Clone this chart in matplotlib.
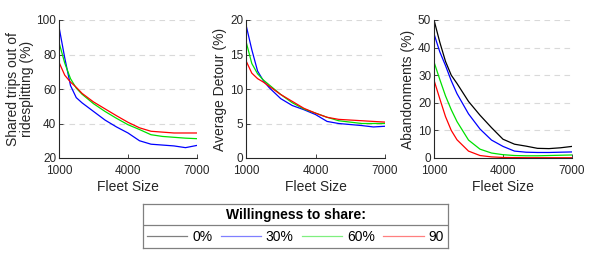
import numpy as np
import matplotlib
matplotlib.use('Agg')
import matplotlib.pyplot as plt

plt.rcParams['font.family'] = ['Liberation Sans', 'DejaVu Sans']

fleet = [1000, 1250, 1500, 1750, 2000, 2500, 3000, 3500, 4000, 4500, 5000, 5500, 6000, 6500, 7000]

# shared trips out of ridesplitting (%)
shared_30 = [96, 78, 62, 55, 52, 47, 42, 38, 34.5, 30, 28, 27.5, 27, 26, 27.3]
shared_60 = [87, 75, 66, 60.5, 57, 51.5, 47, 43, 39.3, 36.5, 33.5, 32.5, 32, 31.5, 31.2]
shared_90 = [75.5, 68, 64, 61, 57.5, 52.5, 48.5, 44.5, 40.7, 37.5, 35.5, 35, 34.5, 34.5, 34.5]

# average detour (%)
detour_30 = [19.3, 15.7, 12.6, 11.2, 10.2, 8.6, 7.6, 7.0, 6.3, 5.3, 5.0, 4.85, 4.7, 4.5, 4.6]
detour_60 = [16.9, 13.7, 12.2, 11.3, 10.6, 9.2, 8.0, 7.1, 6.5, 5.9, 5.4, 5.2, 5.0, 5.0, 5.0]
detour_90 = [14.1, 12.3, 11.5, 11.0, 10.4, 9.2, 8.2, 7.2, 6.5, 5.9, 5.6, 5.5, 5.4, 5.3, 5.2]

# abandonments (%)
aband_0 = [50, 42, 35, 30, 27, 20.5, 15.5, 11, 6.8, 5, 4.3, 3.5, 3.4, 3.7, 4.2]
aband_30 = [45, 38.5, 33.5, 28, 23.3, 16, 10.5, 6.5, 4.2, 2.5, 2.1, 2, 2, 2.1, 2.2]
aband_60 = [34.8, 28.5, 22.5, 17.5, 13.2, 6.5, 3.2, 1.8, 1.2, 0.9, 0.8, 0.8, 0.9, 1.0, 1.1]
aband_90 = [28.2, 21.5, 15, 10, 6.6, 2.5, 0.9, 0.4, 0.2, 0.15, 0.1, 0.1, 0.1, 0.1, 0.1]

labels = ['0%', '30%', '60%', '90']
colors = ['black', 'blue', '#00e000', 'red']

fig = plt.figure(figsize=(5.91, 2.56), dpi=100)
W, H = 591.0, 256.0

def make_ax(left, right, top, bottom):
    return fig.add_axes([left / W, 1 - bottom / H, (right - left) / W, (bottom - top) / H])

def style(ax, ymax, yticks, ylabel):
    ax.set_xlim(1000, 7000)
    ax.set_ylim(yticks[0], ymax)
    ax.set_xticks([1000, 4000, 7000])
    ax.set_yticks(yticks)
    for t in yticks[1:]:
        ax.axhline(t, color='#d9d9d9', lw=0.8, ls=(0, (5, 4)), zorder=0)
    for s in ['top', 'right']:
        ax.spines[s].set_visible(False)
    for s in ['left', 'bottom']:
        ax.spines[s].set_color('#262626')
        ax.spines[s].set_linewidth(0.8)
    ax.tick_params(direction='in', length=3, width=0.6, labelsize=8.5, colors='#262626')
    ax.tick_params(axis='x', pad=5)
    ax.tick_params(axis='y', pad=2)
    ax.set_xlabel('Fleet Size', fontsize=10, color='#262626', labelpad=2)
    ax.set_ylabel(ylabel, fontsize=10, color='#262626', labelpad=2, linespacing=1.0)

ax1 = make_ax(59, 197, 20, 158)
ax1.plot(fleet, shared_30, color=colors[1], lw=0.9)
ax1.plot(fleet, shared_60, color=colors[2], lw=0.9)
ax1.plot(fleet, shared_90, color=colors[3], lw=0.9)
style(ax1, 100, [20, 40, 60, 80, 100], 'Shared trips out of\nridesplitting (%)')

ax2 = make_ax(246, 385, 20, 158)
ax2.plot(fleet, detour_30, color=colors[1], lw=0.9)
ax2.plot(fleet, detour_60, color=colors[2], lw=0.9)
ax2.plot(fleet, detour_90, color=colors[3], lw=0.9)
style(ax2, 20, [0, 5, 10, 15, 20], 'Average Detour (%)')

ax3 = make_ax(434, 572, 20, 158)
lines = []
for vals, c, lab in zip([aband_0, aband_30, aband_60, aband_90], colors, labels):
    l, = ax3.plot(fleet, vals, color=c, lw=0.9, label=lab)
    lines.append(l)
style(ax3, 50, [0, 10, 20, 30, 40, 50], 'Abandonments (%)')

# legend box
lax = make_ax(143, 448, 204, 248)
lax.set_xticks([])
lax.set_yticks([])
for s in lax.spines.values():
    s.set_color('#808080')
    s.set_linewidth(0.9)
lax.axhline(0.52, color='#808080', lw=0.9)
lax.text(0.5, 0.76, 'Willingness to share:', ha='center', va='center',
         fontsize=10, fontweight='bold', transform=lax.transAxes)
leg = lax.legend(handles=lines, labels=labels, ncol=4, loc='center',
                 bbox_to_anchor=(0.5, 0.26), frameon=False, fontsize=10,
                 handlelength=2.9, handletextpad=0.35, columnspacing=0.6,
                 borderaxespad=0, borderpad=0)
for h in leg.get_lines():
    h.set_alpha(0.5)

fig.savefig('out.png', dpi=100)
